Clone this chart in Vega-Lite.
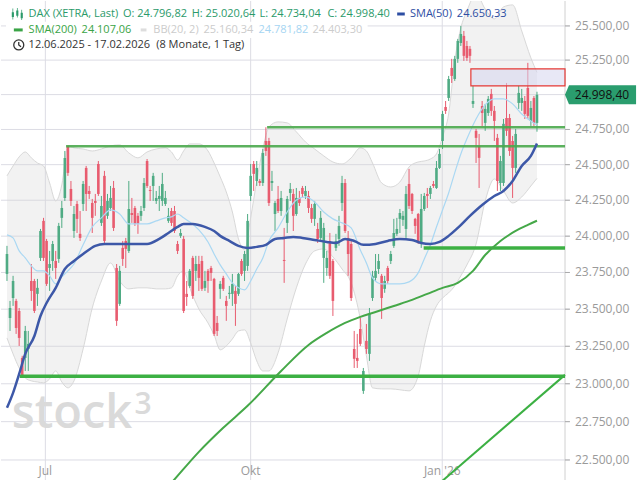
{
"$schema": "https://vega.github.io/schema/vega-lite/v6.json",
"width": 569, "height": 480, "padding": 0, "autosize": {"type": "pad"},
"background": "white",
"config": {"view": {"stroke": null}, "font": "Open Sans"},
"data": {"values": [{}]},
"datasets": {
"candles": [
{"i":0,"o":23740,"h":23933,"l":23692,"c":23877},{"i":1,"o":23441,"h":23556,"l":23353,"c":23508},{"i":2,"o":23576,"h":23727,"l":23522,"c":23692},{"i":3,"o":23556,"h":23570,"l":23333,"c":23373},{"i":4,"o":23488,"h":23508,"l":23252,"c":23306},{"i":5,"o":23172,"h":23186,"l":23050,"c":23058},{"i":6,"o":23172,"h":23387,"l":23085,"c":23353},{"i":7,"o":23232,"h":23353,"l":23085,"c":23266},{"i":8,"o":23692,"h":23808,"l":23556,"c":23624},{"i":9,"o":23692,"h":23706,"l":23474,"c":23488},
{"i":10,"o":23604,"h":23706,"l":23522,"c":23645},{"i":11,"o":23850,"h":24050,"l":23829,"c":24036},{"i":12,"o":24106,"h":24127,"l":23829,"c":23850},{"i":13,"o":23967,"h":23981,"l":23658,"c":23672},{"i":14,"o":23781,"h":23898,"l":23624,"c":23808},{"i":15,"o":23829,"h":23967,"l":23761,"c":23946},{"i":16,"o":23829,"h":23898,"l":23706,"c":23781},{"i":17,"o":23843,"h":24092,"l":23816,"c":24071},{"i":18,"o":24127,"h":24245,"l":24057,"c":24196},{"i":19,"o":24266,"h":24597,"l":24245,"c":24548},
{"i":20,"o":24630,"h":24632,"l":24421,"c":24442},{"i":21,"o":24329,"h":24385,"l":24210,"c":24245},{"i":22,"o":24036,"h":24210,"l":23988,"c":24154},{"i":23,"o":24224,"h":24245,"l":24022,"c":24120},{"i":24,"o":24016,"h":24175,"l":23967,"c":23988},{"i":25,"o":24224,"h":24385,"l":24175,"c":24364},{"i":26,"o":24477,"h":24491,"l":24175,"c":24294},{"i":27,"o":24315,"h":24350,"l":24259,"c":24294},{"i":28,"o":24231,"h":24259,"l":24022,"c":24127},{"i":29,"o":24245,"h":24294,"l":24141,"c":24231},
{"i":30,"o":24505,"h":24526,"l":24280,"c":24294},{"i":31,"o":24092,"h":24280,"l":24071,"c":24210},{"i":32,"o":24421,"h":24456,"l":23953,"c":23967},{"i":33,"o":24141,"h":24294,"l":24120,"c":24245},{"i":34,"o":24196,"h":24350,"l":24175,"c":24266},{"i":35,"o":24336,"h":24385,"l":24036,"c":24057},{"i":36,"o":23781,"h":23808,"l":23387,"c":23421},{"i":37,"o":23536,"h":23795,"l":23522,"c":23761},{"i":38,"o":23919,"h":23967,"l":23795,"c":23843},{"i":39,"o":23967,"h":23988,"l":23781,"c":23912},
{"i":40,"o":23898,"h":24385,"l":23884,"c":24189},{"i":41,"o":24161,"h":24266,"l":24092,"c":24147},{"i":42,"o":24196,"h":24210,"l":24071,"c":24085},{"i":43,"o":24141,"h":24161,"l":24016,"c":24085},{"i":44,"o":24141,"h":24210,"l":24106,"c":24175},{"i":45,"o":24196,"h":24406,"l":24175,"c":24371},{"i":46,"o":24526,"h":24540,"l":24336,"c":24350},{"i":47,"o":24322,"h":24350,"l":24245,"c":24315},{"i":48,"o":24350,"h":24442,"l":24245,"c":24421},{"i":49,"o":24245,"h":24315,"l":24224,"c":24266},
{"i":50,"o":24259,"h":24350,"l":24175,"c":24280},{"i":51,"o":24245,"h":24442,"l":24210,"c":24364},{"i":52,"o":24224,"h":24315,"l":24210,"c":24266},{"i":53,"o":24106,"h":24196,"l":24092,"c":24141},{"i":54,"o":24175,"h":24196,"l":24071,"c":24092},{"i":55,"o":24175,"h":24210,"l":24022,"c":24036},{"i":56,"o":23946,"h":23967,"l":23877,"c":23898},{"i":57,"o":24002,"h":24050,"l":23988,"c":24022},{"i":58,"o":23981,"h":24002,"l":23474,"c":23488},{"i":59,"o":23604,"h":23692,"l":23522,"c":23583},
{"i":60,"o":23658,"h":23774,"l":23645,"c":23761},{"i":61,"o":23850,"h":23864,"l":23570,"c":23590},{"i":62,"o":23761,"h":23864,"l":23692,"c":23808},{"i":63,"o":23808,"h":23864,"l":23624,"c":23713},{"i":64,"o":23829,"h":23864,"l":23624,"c":23638},{"i":65,"o":23645,"h":23761,"l":23624,"c":23692},{"i":66,"o":23761,"h":23774,"l":23611,"c":23692},{"i":67,"o":23781,"h":23795,"l":23692,"c":23747},{"i":68,"o":23706,"h":23713,"l":23319,"c":23333},{"i":69,"o":23407,"h":23454,"l":23319,"c":23353},
{"i":70,"o":23638,"h":23692,"l":23570,"c":23672},{"i":71,"o":23713,"h":23727,"l":23624,"c":23638},{"i":72,"o":23556,"h":23590,"l":23421,"c":23522},{"i":73,"o":23604,"h":23658,"l":23570,"c":23611},{"i":74,"o":23604,"h":23740,"l":23522,"c":23672},{"i":75,"o":23624,"h":23658,"l":23387,"c":23536},{"i":76,"o":23604,"h":23747,"l":23590,"c":23740},{"i":77,"o":23829,"h":23843,"l":23727,"c":23740},{"i":78,"o":23761,"h":23898,"l":23692,"c":23877},{"i":79,"o":23795,"h":24154,"l":23761,"c":24106},
{"i":80,"o":24280,"h":24505,"l":24245,"c":24421},{"i":81,"o":24505,"h":24526,"l":24315,"c":24435},{"i":82,"o":24385,"h":24526,"l":24350,"c":24477},{"i":83,"o":24385,"h":24399,"l":24350,"c":24371},{"i":84,"o":24371,"h":24611,"l":24350,"c":24583},{"i":85,"o":24668,"h":24766,"l":24562,"c":24597},{"i":86,"o":24668,"h":24690,"l":24210,"c":24231},{"i":87,"o":24371,"h":24456,"l":24315,"c":24385},{"i":88,"o":24154,"h":24245,"l":24036,"c":24231},{"i":89,"o":24259,"h":24350,"l":24161,"c":24175},
{"i":90,"o":24175,"h":24315,"l":24141,"c":24266},{"i":91,"o":23836,"h":24057,"l":23679,"c":23829},{"i":92,"o":24092,"h":24280,"l":24022,"c":24259},{"i":93,"o":24301,"h":24371,"l":24245,"c":24329},{"i":94,"o":24294,"h":24329,"l":24036,"c":24141},{"i":95,"o":24154,"h":24336,"l":24141,"c":24266},{"i":96,"o":24266,"h":24315,"l":24210,"c":24231},{"i":97,"o":24336,"h":24350,"l":24266,"c":24294},{"i":98,"o":24280,"h":24350,"l":24259,"c":24315},{"i":99,"o":24280,"h":24315,"l":24161,"c":24196},
{"i":100,"o":24196,"h":24224,"l":24092,"c":24120},{"i":101,"o":24120,"h":24245,"l":24071,"c":24224},{"i":102,"o":24050,"h":24092,"l":23953,"c":23981},{"i":103,"o":23988,"h":24175,"l":23967,"c":24127},{"i":104,"o":23850,"h":24092,"l":23679,"c":24057},{"i":105,"o":23781,"h":23898,"l":23727,"c":23850},{"i":106,"o":23967,"h":24022,"l":23706,"c":23727},{"i":107,"o":23829,"h":23843,"l":23454,"c":23556},{"i":108,"o":23919,"h":24016,"l":23898,"c":23967},{"i":109,"o":23981,"h":24141,"l":23933,"c":24071},
{"i":110,"o":24231,"h":24421,"l":24175,"c":24371},{"i":111,"o":24371,"h":24399,"l":24022,"c":24036},{"i":112,"o":23988,"h":24036,"l":23727,"c":23877},{"i":113,"o":23946,"h":23967,"l":23556,"c":23576},{"i":114,"o":23232,"h":23353,"l":23105,"c":23166},{"i":115,"o":23172,"h":23333,"l":23105,"c":23152},{"i":116,"o":23366,"h":23441,"l":23252,"c":23266},{"i":117,"o":22953,"h":23105,"l":22933,"c":23085},{"i":118,"o":23286,"h":23400,"l":23199,"c":23232},{"i":119,"o":23199,"h":23508,"l":23152,"c":23468},
{"i":120,"o":23576,"h":23761,"l":23556,"c":23727},{"i":121,"o":23713,"h":23877,"l":23692,"c":23761},{"i":122,"o":23774,"h":23877,"l":23740,"c":23829},{"i":123,"o":23727,"h":23740,"l":23434,"c":23576},{"i":124,"o":23638,"h":23727,"l":23611,"c":23692},{"i":125,"o":23781,"h":23795,"l":23672,"c":23692},{"i":126,"o":23829,"h":23898,"l":23808,"c":23877},{"i":127,"o":23933,"h":24120,"l":23919,"c":24022},{"i":128,"o":24016,"h":24127,"l":24002,"c":24050},{"i":129,"o":24120,"h":24189,"l":24022,"c":24161},
{"i":130,"o":24113,"h":24175,"l":24071,"c":24141},{"i":131,"o":24050,"h":24350,"l":23988,"c":24294},{"i":132,"o":24364,"h":24470,"l":24189,"c":24210},{"i":133,"o":24294,"h":24301,"l":24154,"c":24175},{"i":134,"o":24120,"h":24127,"l":24016,"c":24071},{"i":135,"o":24154,"h":24161,"l":23946,"c":23953},{"i":136,"o":23953,"h":24294,"l":23919,"c":24189},{"i":137,"o":24189,"h":24301,"l":24175,"c":24280},{"i":138,"o":24294,"h":24336,"l":24196,"c":24280},{"i":139,"o":24294,"h":24350,"l":24259,"c":24336},
{"i":140,"o":24364,"h":24385,"l":24336,"c":24350},{"i":141,"o":24336,"h":24526,"l":24329,"c":24477},{"i":142,"o":24477,"h":24611,"l":24470,"c":24576},{"i":143,"o":24668,"h":24883,"l":24611,"c":24861},{"i":144,"o":24911,"h":24954,"l":24861,"c":24883},{"i":145,"o":24976,"h":25135,"l":24954,"c":25113},{"i":146,"o":25193,"h":25259,"l":25084,"c":25135},{"i":147,"o":25113,"h":25281,"l":25099,"c":25259},{"i":148,"o":25259,"h":25405,"l":25230,"c":25390},{"i":149,"o":25375,"h":25500,"l":25353,"c":25441},
{"i":150,"o":25427,"h":25463,"l":25244,"c":25281},{"i":151,"o":25353,"h":25390,"l":25244,"c":25266},{"i":152,"o":25332,"h":25353,"l":25230,"c":25281},{"i":153,"o":24933,"h":25063,"l":24904,"c":24954},{"i":154,"o":24740,"h":24754,"l":24512,"c":24690},{"i":155,"o":24633,"h":24718,"l":24336,"c":24548},{"i":156,"o":24918,"h":24954,"l":24775,"c":24868},{"i":157,"o":24797,"h":24933,"l":24740,"c":24897},{"i":158,"o":24868,"h":24990,"l":24847,"c":24969},{"i":159,"o":25005,"h":25041,"l":24847,"c":24883},
{"i":160,"o":24883,"h":24918,"l":24668,"c":24811},{"i":161,"o":24690,"h":24718,"l":24315,"c":24385},{"i":162,"o":24371,"h":24562,"l":24315,"c":24526},{"i":163,"o":24371,"h":24825,"l":24350,"c":24790},{"i":164,"o":24832,"h":25084,"l":24704,"c":24740},{"i":165,"o":24832,"h":24861,"l":24562,"c":24597},{"i":166,"o":24668,"h":24704,"l":24266,"c":24477},{"i":167,"o":24477,"h":24754,"l":24442,"c":24718},{"i":168,"o":24940,"h":25063,"l":24897,"c":25012},{"i":169,"o":24940,"h":25041,"l":24883,"c":24976},
{"i":170,"o":24954,"h":24990,"l":24825,"c":24861},{"i":171,"o":25048,"h":25230,"l":24825,"c":24847},{"i":172,"o":24811,"h":24954,"l":24775,"c":24904},{"i":173,"o":24976,"h":24990,"l":24775,"c":24797},{"i":174,"o":24796.82,"h":25020.64,"l":24734.04,"c":24998.40}
],
"bb": [
{"i":0,"u":24421,"m":24009,"lo":23306},{"i":2,"u":24491,"m":23988,"lo":23199},{"i":4,"u":24555,"m":23898,"lo":23105},{"i":6,"u":24590,"m":23850,"lo":23039},{"i":8,"u":24548,"m":23795,"lo":23019},{"i":10,"u":24512,"m":23761,"lo":23012},{"i":12,"u":24491,"m":23761,"lo":23006},{"i":14,"u":24371,"m":23727,"lo":23032},{"i":16,"u":24245,"m":23672,"lo":23085},{"i":18,"u":24357,"m":23720,"lo":23012},
{"i":20,"u":24633,"m":23761,"lo":22973},{"i":22,"u":24619,"m":23808,"lo":23019},{"i":25,"u":24611,"m":23940,"lo":23232},{"i":28,"u":24597,"m":24064,"lo":23508},{"i":31,"u":24611,"m":24127,"lo":23692},{"i":34,"u":24633,"m":24182,"lo":23815},{"i":37,"u":24640,"m":24154,"lo":23692},{"i":40,"u":24583,"m":24085,"lo":23638},{"i":43,"u":24548,"m":24085,"lo":23645},{"i":46,"u":24590,"m":24085,"lo":23645},
{"i":49,"u":24611,"m":24106,"lo":23638},{"i":52,"u":24619,"m":24127,"lo":23638},{"i":54,"u":24590,"m":24134,"lo":23645},{"i":56,"u":24533,"m":24154,"lo":23727},{"i":58,"u":24597,"m":24127,"lo":23761},{"i":60,"u":24647,"m":24099,"lo":23645},{"i":63,"u":24647,"m":24043,"lo":23501},{"i":66,"u":24597,"m":23960,"lo":23407},{"i":68,"u":24512,"m":23877,"lo":23326},{"i":70,"u":24414,"m":23802,"lo":23226},
{"i":72,"u":24308,"m":23740,"lo":23252},{"i":74,"u":24168,"m":23679,"lo":23299},{"i":76,"u":23981,"m":23645,"lo":23353},{"i":78,"u":23905,"m":23631,"lo":23360},{"i":80,"u":24127,"m":23692,"lo":23272},{"i":82,"u":24385,"m":23774,"lo":23152},{"i":84,"u":24611,"m":23850,"lo":23085},{"i":86,"u":24768,"m":23967,"lo":23085},{"i":89,"u":24804,"m":24057,"lo":23206},{"i":92,"u":24797,"m":24168,"lo":23434},
{"i":95,"u":24733,"m":24252,"lo":23645},{"i":98,"u":24661,"m":24273,"lo":23808},{"i":101,"u":24611,"m":24238,"lo":23898},{"i":104,"u":24562,"m":24168,"lo":23912},{"i":107,"u":24519,"m":24120,"lo":23857},{"i":110,"u":24505,"m":24092,"lo":23774},{"i":113,"u":24548,"m":24057,"lo":23679},{"i":116,"u":24619,"m":23905,"lo":23434},{"i":118,"u":24597,"m":23815,"lo":23186},{"i":120,"u":24512,"m":23713,"lo":22973},
{"i":123,"u":24371,"m":23672,"lo":22966},{"i":126,"u":24343,"m":23672,"lo":22966},{"i":129,"u":24378,"m":23672,"lo":22960},{"i":132,"u":24484,"m":23686,"lo":22953},{"i":135,"u":24519,"m":23747,"lo":23052},{"i":137,"u":24526,"m":23843,"lo":23252},{"i":139,"u":24540,"m":23940,"lo":23421},{"i":141,"u":24576,"m":24064,"lo":23522},{"i":143,"u":24697,"m":24182,"lo":23576},{"i":145,"u":24861,"m":24301,"lo":23611},
{"i":147,"u":25244,"m":24442,"lo":23658},{"i":149,"u":25485,"m":24576,"lo":23727},{"i":151,"u":25611,"m":24683,"lo":23802},{"i":154,"u":25736,"m":24825,"lo":23946},{"i":157,"u":25625,"m":24926,"lo":24245},{"i":160,"u":25552,"m":24969,"lo":24399},{"i":163,"u":25640,"m":24969,"lo":24315},{"i":166,"u":25655,"m":24933,"lo":24231},{"i":169,"u":25463,"m":24861,"lo":24273},{"i":172,"u":25266,"m":24810,"lo":24350},
{"i":174,"u":25160.34,"m":24781.82,"lo":24403.30}
],
"sma50": [
{"i":0,"v":22841},{"i":2,"v":22940},{"i":4,"v":23065},{"i":6,"v":23199},{"i":9,"v":23319},{"i":11,"v":23454},{"i":13,"v":23542},{"i":16,"v":23645},{"i":19,"v":23774},{"i":22,"v":23829},{"i":25,"v":23877},{"i":29,"v":23933},{"i":32,"v":23946},{"i":37,"v":23946},{"i":40,"v":23946},{"i":46,"v":23946},{"i":50,"v":23981},{"i":53,"v":24022},{"i":56,"v":24064},{"i":58,"v":24085},{"i":61,"v":24085},{"i":65,"v":24064},{"i":68,"v":24036},{"i":70,"v":24002},{"i":73,"v":23967},{"i":76,"v":23933},{"i":79,"v":23919},{"i":82,"v":23926},{"i":85,"v":23940},{"i":88,"v":23981},{"i":91,"v":23988},{"i":94,"v":23995},{"i":97,"v":23988},{"i":101,"v":23974},{"i":105,"v":23960},{"i":108,"v":23953},{"i":111,"v":23981},{"i":114,"v":23967},{"i":117,"v":23940},{"i":121,"v":23946},{"i":125,"v":23967},{"i":129,"v":23981},{"i":133,"v":23974},{"i":136,"v":23953},{"i":139,"v":23946},{"i":142,"v":23960},{"i":145,"v":24002},{"i":148,"v":24057},{"i":152,"v":24141},{"i":156,"v":24217},{"i":160,"v":24280},{"i":163,"v":24315},{"i":166,"v":24385},{"i":169,"v":24491},{"i":172,"v":24562},{"i":174,"v":24650.33}
],
"sma200": [
{"i":48,"v":22223},{"i":54,"v":22352},{"i":63,"v":22553},{"i":71,"v":22710},{"i":79,"v":22854},{"i":90,"v":23085},{"i":99,"v":23259},{"i":105,"v":23340},{"i":111,"v":23407},{"i":116,"v":23448},{"i":121,"v":23481},{"i":127,"v":23522},{"i":133,"v":23563},{"i":138,"v":23604},{"i":143,"v":23645},{"i":148,"v":23679},{"i":153,"v":23761},{"i":157,"v":23870},{"i":162,"v":23967},{"i":167,"v":24036},{"i":171,"v":24078},{"i":174,"v":24107.06}
],
"levels_thin": [{"v":24630,"i0":19.4,"i1":183.2},{"v":24766,"i0":85.4,"i1":183.2}],
"levels_thick": [{"v":23919,"i0":136.8,"i1":183.2},{"v":23050,"i0":4.2,"i1":183.2}],
"trend": [{"i":142.9,"v":22364},{"i":183.2,"v":23059}],
"zone": [{"i0":152.3,"i1":183.2,"lo":25063,"hi":25186}],
"months": [{"i":12.6,"t":"Jul"},{"i":80,"t":"Okt"},{"i":142.9,"t":"Jan '26"}],
"yticks": [{"v":22500,"t":"22.500,00"},{"v":22750,"t":"22.750,00"},{"v":23000,"t":"23.000,00"},{"v":23250,"t":"23.250,00"},{"v":23500,"t":"23.500,00"},{"v":23750,"t":"23.750,00"},{"v":24000,"t":"24.000,00"},{"v":24250,"t":"24.250,00"},{"v":24500,"t":"24.500,00"},{"v":24750,"t":"24.750,00"},{"v":25000,"t":"25.000,00"},{"v":25250,"t":"25.250,00"},{"v":25500,"t":"25.500,00"}]
},
"layer": [
{"data": {"name": "yticks"}, "mark": {"type": "rule", "color": "#dcdce4", "strokeWidth": 1},
 "encoding": {"y": {"field": "v", "type": "quantitative", "scale": {"type": "log", "domain": [22364, 25684], "nice": false}, "axis": null}}},
{"data": {"name": "months"}, "mark": {"type": "rule", "color": "#dcdce4", "strokeWidth": 1},
 "encoding": {"x": {"field": "i", "type": "quantitative", "scale": {"domain": [-0.32, 183.2], "nice": false, "zero": false}, "axis": null}}},
{"data": {"name": "bb"},
 "mark": {"type": "area", "color": "#d4d4d4", "opacity": 0.3, "interpolate": "monotone", "clip": true},
 "encoding": {
  "x": {"field": "i", "type": "quantitative", "scale": {"domain": [-0.32, 183.2], "nice": false, "zero": false}, "axis": null},
  "y": {"field": "u", "type": "quantitative", "scale": {"type": "log", "domain": [22364, 25684], "nice": false}, "axis": null},
  "y2": {"field": "lo"}}},
{"mark": {"type": "text", "text": "stock", "align": "left", "baseline": "alphabetic", "fontSize": 47, "fontWeight": 600, "font": "Open Sans", "color": "#dadada"},
 "encoding": {"x": {"datum": 1.6, "type": "quantitative", "axis": null}, "y": {"datum": 22709, "type": "quantitative", "axis": null}}},
{"mark": {"type": "text", "text": "3", "align": "left", "baseline": "alphabetic", "fontSize": 30, "fontWeight": 600, "font": "Open Sans", "color": "#dadada"},
 "encoding": {"x": {"datum": 41.9, "type": "quantitative", "axis": null}, "y": {"datum": 22801, "type": "quantitative", "axis": null}}},
{"data": {"name": "months"}, "mark": {"type": "text", "align": "center", "baseline": "middle", "fontSize": 12, "font": "Open Sans", "color": "#9a9a9a"},
 "encoding": {"x": {"field": "i", "type": "quantitative", "axis": null}, "y": {"datum": 22429, "type": "quantitative", "axis": null}, "text": {"field": "t"}}},
{"mark": {"type": "rule", "color": "#d0d0d0", "strokeWidth": 1},
 "encoding": {"x": {"datum": 183.2, "type": "quantitative", "axis": null}}},
{"data": {"name": "yticks"}, "mark": {"type": "rule", "color": "#aaaaaa", "strokeWidth": 1},
 "encoding": {"x": {"datum": 183.2, "type": "quantitative", "axis": null}, "x2": {"datum": 184.8}, "y": {"field": "v", "type": "quantitative", "axis": null}}},
{"data": {"name": "yticks"}, "mark": {"type": "text", "align": "left", "baseline": "middle", "dx": 10, "fontSize": 12, "font": "Open Sans", "color": "#9a9a9a"},
 "encoding": {"x": {"datum": 183.2, "type": "quantitative", "axis": null}, "y": {"field": "v", "type": "quantitative", "axis": null}, "text": {"field": "t"}}},
{"data": {"name": "bb"}, "mark": {"type": "line", "color": "#d8d8d8", "strokeWidth": 1, "interpolate": "monotone", "clip": true},
 "encoding": {"x": {"field": "i", "type": "quantitative", "axis": null}, "y": {"field": "u", "type": "quantitative", "axis": null}}},
{"data": {"name": "bb"}, "mark": {"type": "line", "color": "#d8d8d8", "strokeWidth": 1, "interpolate": "monotone", "clip": true},
 "encoding": {"x": {"field": "i", "type": "quantitative", "axis": null}, "y": {"field": "lo", "type": "quantitative", "axis": null}}},
{"data": {"name": "candles"}, "mark": {"type": "rule", "strokeWidth": 1, "clip": true},
 "encoding": {"x": {"field": "i", "type": "quantitative", "axis": null}, "y": {"field": "l", "type": "quantitative", "axis": null}, "y2": {"field": "h"},
  "color": {"condition": {"test": "datum.c >= datum.o", "value": "#4fab84"}, "value": "#e85c6f"}}},
{"data": {"name": "candles"}, "mark": {"type": "bar", "size": 2.6, "clip": true},
 "encoding": {"x": {"field": "i", "type": "quantitative", "axis": null}, "y": {"field": "o", "type": "quantitative", "axis": null}, "y2": {"field": "c"},
  "color": {"condition": {"test": "datum.c >= datum.o", "value": "#4fab84"}, "value": "#e85c6f"}}},
{"data": {"name": "bb"}, "mark": {"type": "line", "color": "#aad8f3", "strokeWidth": 1.2, "interpolate": "monotone", "clip": true},
 "encoding": {"x": {"field": "i", "type": "quantitative", "axis": null}, "y": {"field": "m", "type": "quantitative", "axis": null}}},
{"data": {"name": "levels_thin"}, "mark": {"type": "rule", "color": "#4aa84d", "strokeWidth": 2.5, "opacity": 0.9},
 "encoding": {"x": {"field": "i0", "type": "quantitative", "axis": null}, "x2": {"field": "i1"}, "y": {"field": "v", "type": "quantitative", "axis": null}}},
{"data": {"name": "levels_thick"}, "mark": {"type": "rule", "color": "#3cb043", "strokeWidth": 3.5},
 "encoding": {"x": {"field": "i0", "type": "quantitative", "axis": null}, "x2": {"field": "i1"}, "y": {"field": "v", "type": "quantitative", "axis": null}}},
{"data": {"name": "sma200"}, "mark": {"type": "line", "color": "#45a848", "strokeWidth": 2, "interpolate": "monotone", "clip": true},
 "encoding": {"x": {"field": "i", "type": "quantitative", "axis": null}, "y": {"field": "v", "type": "quantitative", "axis": null}}},
{"data": {"name": "sma50"}, "mark": {"type": "line", "color": "#3d58a8", "strokeWidth": 2.5, "interpolate": "monotone", "clip": true},
 "encoding": {"x": {"field": "i", "type": "quantitative", "axis": null}, "y": {"field": "v", "type": "quantitative", "axis": null}}},
{"data": {"name": "trend"}, "mark": {"type": "line", "color": "#3cb043", "strokeWidth": 2, "clip": true},
 "encoding": {"x": {"field": "i", "type": "quantitative", "axis": null}, "y": {"field": "v", "type": "quantitative", "axis": null}}},
{"data": {"name": "zone"}, "mark": {"type": "rect", "fill": "#d6d6ee", "fillOpacity": 0.55, "stroke": "#e53935", "strokeWidth": 1.2},
 "encoding": {"x": {"field": "i0", "type": "quantitative", "axis": null}, "x2": {"field": "i1"}, "y": {"field": "lo", "type": "quantitative", "axis": null}, "y2": {"field": "hi"}}},
{"mark": {"type": "rect", "fill": "white"},
 "encoding": {"x": {"datum": -0.32, "type": "quantitative", "axis": null}, "x2": {"datum": 118.4}, "y": {"datum": 25530, "type": "quantitative", "axis": null}, "y2": {"datum": 25412}}},
{"mark": {"type": "point", "shape": "M-0.8,-0.9H-0.68V0.9H-0.8Z M-0.92,-0.3H-0.56V0.5H-0.92Z M-0.06,-1H0.06V0.6H-0.06Z M-0.18,-0.6H0.18V0.3H-0.18Z M0.68,-0.7H0.8V1H0.68Z M0.56,-0.2H0.92V0.7H0.56Z", "size": 144, "filled": true, "color": "#2b9a6a", "opacity": 1, "strokeWidth": 0},
 "encoding": {"x": {"datum": 3.39, "type": "quantitative", "axis": null}, "y": {"datum": 25588, "type": "quantitative", "axis": null}}},
{"mark": {"type": "text", "text": "DAX (XETRA, Last)", "align": "left", "baseline": "middle", "fontSize": 11, "font": "Open Sans", "color": "#2b9a6a"},
 "encoding": {"x": {"datum": 7.1, "type": "quantitative", "axis": null}, "y": {"datum": 25588, "type": "quantitative", "axis": null}}},
{"mark": {"type": "text", "text": "O: 24.796,82", "align": "left", "baseline": "middle", "fontSize": 11, "font": "Open Sans", "color": "#2b9a6a"},
 "encoding": {"x": {"datum": 38.06, "type": "quantitative", "axis": null}, "y": {"datum": 25588, "type": "quantitative", "axis": null}}},
{"mark": {"type": "text", "text": "H: 25.020,64", "align": "left", "baseline": "middle", "fontSize": 11, "font": "Open Sans", "color": "#2b9a6a"},
 "encoding": {"x": {"datum": 60.65, "type": "quantitative", "axis": null}, "y": {"datum": 25588, "type": "quantitative", "axis": null}}},
{"mark": {"type": "text", "text": "L: 24.734,04", "align": "left", "baseline": "middle", "fontSize": 11, "font": "Open Sans", "color": "#2b9a6a"},
 "encoding": {"x": {"datum": 82.9, "type": "quantitative", "axis": null}, "y": {"datum": 25588, "type": "quantitative", "axis": null}}},
{"mark": {"type": "text", "text": "C: 24.998,40", "align": "left", "baseline": "middle", "fontSize": 11, "font": "Open Sans", "color": "#2b9a6a"},
 "encoding": {"x": {"datum": 105.2, "type": "quantitative", "axis": null}, "y": {"datum": 25588, "type": "quantitative", "axis": null}}},
{"mark": {"type": "rule", "color": "#2d4ea3", "strokeWidth": 3},
 "encoding": {"x": {"datum": 128.1, "type": "quantitative", "axis": null}, "x2": {"datum": 130.6}, "y": {"datum": 25588, "type": "quantitative", "axis": null}}},
{"mark": {"type": "text", "text": "SMA(50)", "align": "left", "baseline": "middle", "fontSize": 11, "font": "Open Sans", "color": "#2d4ea3"},
 "encoding": {"x": {"datum": 132.3, "type": "quantitative", "axis": null}, "y": {"datum": 25588, "type": "quantitative", "axis": null}}},
{"mark": {"type": "text", "text": "24.650,33", "align": "left", "baseline": "middle", "fontSize": 11, "font": "Open Sans", "color": "#2d4ea3"},
 "encoding": {"x": {"datum": 147.7, "type": "quantitative", "axis": null}, "y": {"datum": 25588, "type": "quantitative", "axis": null}}},
{"mark": {"type": "rule", "color": "#3aa446", "strokeWidth": 3},
 "encoding": {"x": {"datum": 2.26, "type": "quantitative", "axis": null}, "x2": {"datum": 5.16}, "y": {"datum": 25470.6, "type": "quantitative", "axis": null}}},
{"mark": {"type": "text", "text": "SMA(200)", "align": "left", "baseline": "middle", "fontSize": 11, "font": "Open Sans", "color": "#3aa446"},
 "encoding": {"x": {"datum": 7.1, "type": "quantitative", "axis": null}, "y": {"datum": 25470.6, "type": "quantitative", "axis": null}}},
{"mark": {"type": "text", "text": "24.107,06", "align": "left", "baseline": "middle", "fontSize": 11, "font": "Open Sans", "color": "#3aa446"},
 "encoding": {"x": {"datum": 24.5, "type": "quantitative", "axis": null}, "y": {"datum": 25470.6, "type": "quantitative", "axis": null}}},
{"mark": {"type": "rule", "color": "#dddddd", "strokeWidth": 3},
 "encoding": {"x": {"datum": 43.9, "type": "quantitative", "axis": null}, "x2": {"datum": 45.8}, "y": {"datum": 25470.6, "type": "quantitative", "axis": null}}},
{"mark": {"type": "text", "text": "BB(20, 2)", "align": "left", "baseline": "middle", "fontSize": 11, "font": "Open Sans", "color": "#cccccc"},
 "encoding": {"x": {"datum": 48.06, "type": "quantitative", "axis": null}, "y": {"datum": 25470.6, "type": "quantitative", "axis": null}}},
{"mark": {"type": "text", "text": "25.160,34", "align": "left", "baseline": "middle", "fontSize": 11, "font": "Open Sans", "color": "#cccccc"},
 "encoding": {"x": {"datum": 64.5, "type": "quantitative", "axis": null}, "y": {"datum": 25470.6, "type": "quantitative", "axis": null}}},
{"mark": {"type": "text", "text": "24.781,82", "align": "left", "baseline": "middle", "fontSize": 11, "font": "Open Sans", "color": "#a6d5f2"},
 "encoding": {"x": {"datum": 82.6, "type": "quantitative", "axis": null}, "y": {"datum": 25470.6, "type": "quantitative", "axis": null}}},
{"mark": {"type": "text", "text": "24.403,30", "align": "left", "baseline": "middle", "fontSize": 11, "font": "Open Sans", "color": "#cccccc"},
 "encoding": {"x": {"datum": 100.3, "type": "quantitative", "axis": null}, "y": {"datum": 25470.6, "type": "quantitative", "axis": null}}},
{"mark": {"type": "point", "shape": "M0,-1A1,1 0 1,1 0,1A1,1 0 1,1 0,-1M0,-0.6L0,0L0.45,0.35", "size": 100, "filled": false, "color": "#333333", "strokeWidth": 1.3, "opacity": 1},
 "encoding": {"x": {"datum": 3.87, "type": "quantitative", "axis": null}, "y": {"datum": 25360.7, "type": "quantitative", "axis": null}}},
{"mark": {"type": "text", "text": "12.06.2025 - 17.02.2026", "align": "left", "baseline": "middle", "fontSize": 11, "font": "Open Sans", "color": "#333333"},
 "encoding": {"x": {"datum": 7.1, "type": "quantitative", "axis": null}, "y": {"datum": 25360.7, "type": "quantitative", "axis": null}}},
{"mark": {"type": "text", "text": "(8 Monate, 1 Tag)", "align": "left", "baseline": "middle", "fontSize": 11, "font": "Open Sans", "color": "#333333"},
 "encoding": {"x": {"datum": 49.0, "type": "quantitative", "axis": null}, "y": {"datum": 25360.7, "type": "quantitative", "axis": null}}},
{"mark": {"type": "point", "shape": "M0,0L0.21,-0.5L3.74,-0.5L3.74,0.5L0.21,0.5Z", "size": 1444, "filled": true, "color": "#2a9d6e", "opacity": 1, "strokeWidth": 0},
 "encoding": {"x": {"datum": 183.2, "type": "quantitative", "axis": null}, "y": {"datum": 24998.4, "type": "quantitative", "axis": null}}},
{"mark": {"type": "text", "text": "24.998,40", "align": "center", "baseline": "middle", "dx": 37, "fontSize": 12, "font": "Open Sans", "color": "#111111"},
 "encoding": {"x": {"datum": 183.2, "type": "quantitative", "axis": null}, "y": {"datum": 24998.4, "type": "quantitative", "axis": null}}}
]
}
